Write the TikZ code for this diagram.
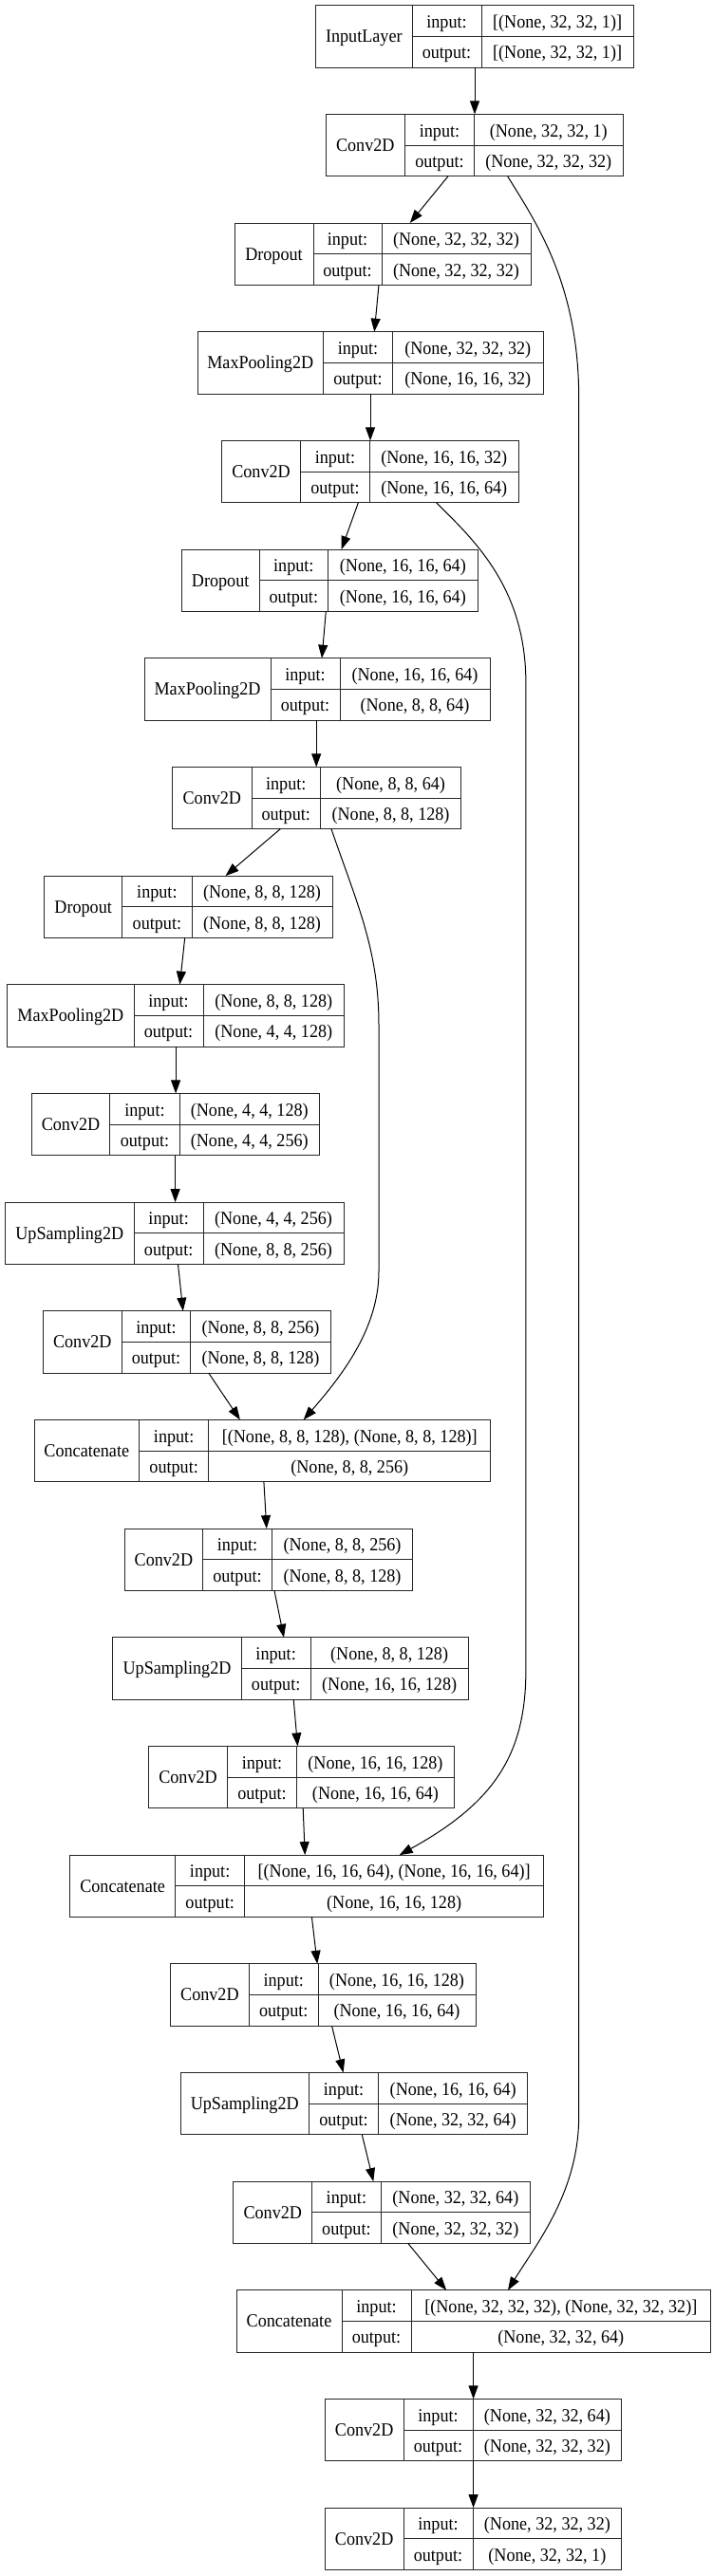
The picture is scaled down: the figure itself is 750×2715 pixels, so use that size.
\documentclass[tikz,border=0pt]{standalone}
\usepackage{fontspec}
\setmainfont{Liberation Serif}[FakeStretch=0.93]
\usetikzlibrary{arrows.meta}
\tikzset{
  boxst/.style={draw=black!85, line width=1pt, rectangle, inner sep=0pt, outer sep=0pt},
  boxline/.style={draw=black!85, line width=1pt},
  txt/.style={anchor=base, inner sep=0pt, font=\fontsize{19.5}{21}\selectfont},
  arr/.style={draw=black, line width=1pt, -{Triangle[length=14pt,width=10pt]}},
}
% #1 name, #2 top, #3 x0, #4 d1, #5 d2, #6 x1, #7 label, #8 input, #9 output
\newcommand\lyrbox[9]{%
  \node[boxst, minimum width={#6-#3}, minimum height=65.3, anchor=north west] (#1) at (#3,#2) {};
  \draw[boxline] (#4,#2) -- ++(0,65.3);
  \draw[boxline] (#5,#2) -- ++(0,65.3);
  \draw[boxline] (#4,{#2+32.65}) -- (#6,{#2+32.65});
  \node[txt] (#1l) at ({(#3+#4)/2},{#2+39}) {#7};
  \node[txt] (#1a) at ({(#4+#5)/2},{#2+23.6}) {input:};
  \node[txt] (#1b) at ({(#5+#6)/2},{#2+23.6}) {#8};
  \node[txt] (#1c) at ({(#4+#5)/2},{#2+56}) {output:};
  \node[txt] (#1d) at ({(#5+#6)/2},{#2+56}) {#9};
}
\begin{document}
\begin{tikzpicture}[x=1pt,y=-1pt]
\useasboundingbox (0,0) rectangle (750,2715);
\fill[white] (0,0) rectangle (750,2715);

\lyrbox{L0}{5.7}{332.7}{434}{507}{667.3}{InputLayer}{[(None, 32, 32, 1)]}{[(None, 32, 32, 1)]}
\lyrbox{L1}{120.4}{343}{426.5}{499.5}{656}{Conv2D}{(None, 32, 32, 1)}{(None, 32, 32, 32)}
\lyrbox{L2}{235.0}{247}{330}{402}{559}{Dropout}{(None, 32, 32, 32)}{(None, 32, 32, 32)}
\lyrbox{L3}{349.7}{208}{340.5}{413.5}{572}{MaxPooling2D}{(None, 32, 32, 32)}{(None, 16, 16, 32)}
\lyrbox{L4}{464.4}{233.7}{316.4}{389.5}{546}{Conv2D}{(None, 16, 16, 32)}{(None, 16, 16, 64)}
\lyrbox{L5}{579.1}{191.3}{273}{345.7}{503}{Dropout}{(None, 16, 16, 64)}{(None, 16, 16, 64)}
\lyrbox{L6}{693.7}{152}{285}{358}{516}{MaxPooling2D}{(None, 16, 16, 64)}{(None, 8, 8, 64)}
\lyrbox{L7}{808.4}{181.7}{265}{337.5}{485.6}{Conv2D}{(None, 8, 8, 64)}{(None, 8, 8, 128)}
\lyrbox{L8}{923.1}{46.6}{128.8}{202}{350}{Dropout}{(None, 8, 8, 128)}{(None, 8, 8, 128)}
\lyrbox{L9}{1037.7}{7.7}{141}{214}{362.5}{MaxPooling2D}{(None, 8, 8, 128)}{(None, 4, 4, 128)}
\lyrbox{L10}{1152.4}{33.2}{115.9}{189}{336.5}{Conv2D}{(None, 4, 4, 128)}{(None, 4, 4, 256)}
\lyrbox{L11}{1267.1}{5.3}{141.3}{214}{362}{UpSampling2D}{(None, 4, 4, 256)}{(None, 8, 8, 256)}
\lyrbox{L12}{1381.7}{45.2}{128.4}{200.5}{348.6}{Conv2D}{(None, 8, 8, 256)}{(None, 8, 8, 128)}
\lyrbox{L13}{1496.4}{36}{146.6}{219.7}{516.8}{Concatenate}{[(None, 8, 8, 128), (None, 8, 8, 128)]}{(None, 8, 8, 256)}
\lyrbox{L14}{1611.1}{131.3}{213.5}{286.5}{434.6}{Conv2D}{(None, 8, 8, 256)}{(None, 8, 8, 128)}
\lyrbox{L15}{1725.8}{118.8}{254.3}{327}{493.3}{UpSampling2D}{(None, 8, 8, 128)}{(None, 16, 16, 128)}
\lyrbox{L16}{1840.4}{156.7}{239.4}{312.5}{478.4}{Conv2D}{(None, 16, 16, 128)}{(None, 16, 16, 64)}
\lyrbox{L17}{1955.1}{73.6}{184.6}{257.7}{572.6}{Concatenate}{[(None, 16, 16, 64), (None, 16, 16, 64)]}{(None, 16, 16, 128)}
\lyrbox{L18}{2069.8}{179.3}{262.5}{335}{501}{Conv2D}{(None, 16, 16, 128)}{(None, 16, 16, 64)}
\lyrbox{L19}{2184.4}{190}{325.5}{398.6}{555.8}{UpSampling2D}{(None, 16, 16, 64)}{(None, 32, 32, 64)}
\lyrbox{L20}{2299.1}{245.7}{328.8}{401}{558.7}{Conv2D}{(None, 32, 32, 64)}{(None, 32, 32, 32)}
\lyrbox{L21}{2413.8}{249}{360}{433}{748.6}{Concatenate}{[(None, 32, 32, 32), (None, 32, 32, 32)]}{(None, 32, 32, 64)}
\lyrbox{L22}{2528.4}{342.3}{425}{498}{654.8}{Conv2D}{(None, 32, 32, 64)}{(None, 32, 32, 32)}
\lyrbox{L23}{2643.1}{342.3}{425}{498}{654.8}{Conv2D}{(None, 32, 32, 32)}{(None, 32, 32, 1)}

% straight connectors
\draw[arr] ([xshift=500-332.7]L0.south west) -- ([xshift=500-343]L1.north west);
\draw[arr] ([xshift=472-343]L1.south west) -- ([xshift=431.8-247]L2.north west);
\draw[arr] ([xshift=399-247]L2.south west) -- ([xshift=394.3-208]L3.north west);
\draw[arr] ([xshift=390-208]L3.south west) -- ([xshift=390-233.7]L4.north west);
\draw[arr] ([xshift=377.4-233.7]L4.south west) -- ([xshift=359.6-191.3]L5.north west);
\draw[arr] ([xshift=343.3-191.3]L5.south west) -- ([xshift=339-152]L6.north west);
\draw[arr] ([xshift=333.2-152]L6.south west) -- ([xshift=333.2-181.7]L7.north west);
\draw[arr] ([xshift=295.2-181.7]L7.south west) -- ([xshift=237.5-46.6]L8.north west);
\draw[arr] ([xshift=194.7-46.6]L8.south west) -- ([xshift=189.4-7.7]L9.north west);
\draw[arr] ([xshift=185.1-7.7]L9.south west) -- ([xshift=185.1-33.2]L10.north west);
\draw[arr] ([xshift=184.6-33.2]L10.south west) -- ([xshift=184.6-5.3]L11.north west);
\draw[arr] ([xshift=187.5-5.3]L11.south west) -- ([xshift=192.8-45.2]L12.north west);
\draw[arr] ([xshift=219.7-45.2]L12.south west) -- ([xshift=252.9-36]L13.north west);
\draw[arr] ([xshift=277.9-36]L13.south west) -- ([xshift=280.8-131.3]L14.north west);
\draw[arr] ([xshift=289-131.3]L14.south west) -- ([xshift=299-118.8]L15.north west);
\draw[arr] ([xshift=309.2-118.8]L15.south west) -- ([xshift=313.5-156.7]L16.north west);
\draw[arr] ([xshift=319.2-156.7]L16.south west) -- ([xshift=321.2-73.6]L17.north west);
\draw[arr] ([xshift=328.4-73.6]L17.south west) -- ([xshift=334.2-179.3]L18.north west);
\draw[arr] ([xshift=349.5-179.3]L18.south west) -- ([xshift=361.6-190]L19.north west);
\draw[arr] ([xshift=381.3-190]L19.south west) -- ([xshift=393.3-245.7]L20.north west);
\draw[arr] ([xshift=429.8-245.7]L20.south west) -- ([xshift=470.2-249]L21.north west);
\draw[arr] ([xshift=498.6-249]L21.south west) -- ([xshift=498.6-342.3]L22.north west);
\draw[arr] ([xshift=498.6-342.3]L22.south west) -- ([xshift=498.6-342.3]L23.north west);

% skip connectors
\draw[arr] ([xshift=534.6-343]L1.south west) .. controls (565,235) and (609.7,300) .. (609.7,420)
  -- (609.7,2230) .. controls (609.7,2310) and (565,2365) .. ([xshift=535-249]L21.north west);
\draw[arr] ([xshift=459.6-233.7]L4.south west) .. controls (500,570) and (553.9,620) .. (553.9,720)
  -- (553.9,1760) .. controls (553.9,1850) and (520,1900) .. ([xshift=420.7-73.6]L17.north west);
\draw[arr] ([xshift=349-181.7]L7.south west) .. controls (375,950) and (399,1000) .. (399,1080)
  -- (399,1340) .. controls (399,1400) and (360,1450) .. ([xshift=319.7-36]L13.north west);
\end{tikzpicture}
\end{document}
